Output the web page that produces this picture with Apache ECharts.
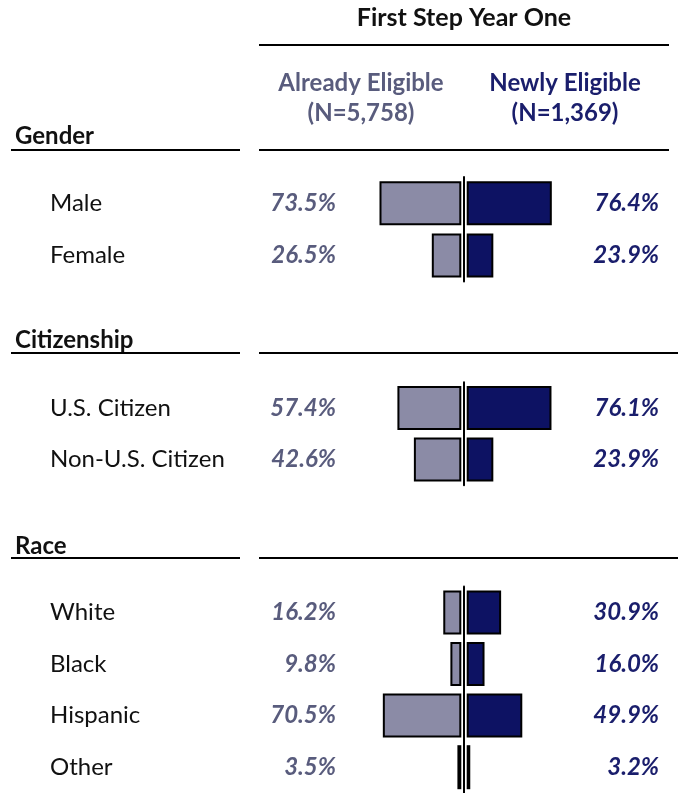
<!DOCTYPE html>
<html>
<head>
<meta charset="UTF-8">
<title>First Step Year One</title>
<script src="https://cdn.jsdelivr.net/npm/echarts@6/dist/echarts.min.js"></script>
<style>
  html, body { margin:0; padding:0; background:#fff; }
  #main { width:678px; height:793px; }
</style>
</head>
<body>
<div id="main"></div>
<script type="text/javascript">
// data
var genderCats = ['Male', 'Female'];
var genderAlready = [73.5, 26.5];
var genderNewly = [76.4, 23.9];

var citizenCats = ['U.S. Citizen', 'Non-U.S. Citizen'];
var citizenAlready = [57.4, 42.6];
var citizenNewly = [76.1, 23.9];

var raceCats = ['White', 'Black', 'Hispanic', 'Other'];
var raceAlready = [16.2, 9.8, 70.5, 3.5];
var raceNewly = [30.9, 16.0, 49.9, 3.2];

var grayFill = '#8b8ba6';
var navyFill = '#0d1263';
var grayText = '#595c7d';
var navyText = '#1a1e6c';
var fontName = 'Lato, "Open Sans", sans-serif';

var sections = [
  { cats: genderCats, already: genderAlready, newly: genderNewly, top: 177, height: 104.6 },
  { cats: citizenCats, already: citizenAlready, newly: citizenNewly, top: 382.3, height: 103 },
  { cats: raceCats, already: raceAlready, newly: raceNewly, top: 586.6, height: 207.2 }
];

function pct(v) { return v.toFixed(1) + '%'; }

var grids = [], xAxes = [], yAxes = [], series = [];

sections.forEach(function (s, i) {
  var gl = i * 2, gr = i * 2 + 1;
  grids.push({ left: 350, width: 111.3, top: s.top, height: s.height });
  grids.push({ left: 466.7, width: 111.4, top: s.top, height: s.height });

  xAxes.push({ gridIndex: gl, type: 'value', min: 0, max: 100, inverse: true, show: false });
  xAxes.push({ gridIndex: gr, type: 'value', min: 0, max: 100, show: false });

  var base = yAxes.length;
  // category names
  yAxes.push({
    gridIndex: gl, type: 'category', data: s.cats, inverse: true, position: 'left',
    axisLine: { show: false, onZero: false }, axisTick: { show: false }, splitLine: { show: false },
    axisLabel: { align: 'left', margin: 300, color: '#111', fontSize: 24, fontFamily: fontName, padding: [3, 0, 0, 0] }
  });
  // already eligible percentages
  yAxes.push({
    gridIndex: gl, type: 'category', data: s.cats, inverse: true, position: 'left',
    axisLine: { show: false, onZero: false }, axisTick: { show: false }, splitLine: { show: false },
    axisLabel: {
      margin: 14, color: grayText, fontSize: 24, fontWeight: 'bold', fontStyle: 'italic', fontFamily: fontName,
      padding: [3, 0, 0, 0],
      formatter: (function (arr) { return function (v, idx) { return pct(arr[idx]); }; })(s.already)
    }
  });
  // centre line
  yAxes.push({
    gridIndex: gr, type: 'category', data: s.cats, inverse: true, position: 'left', offset: 2.7,
    axisLine: { show: true, onZero: false, lineStyle: { color: '#000', width: 2 } },
    axisTick: { show: false }, axisLabel: { show: false }, splitLine: { show: false }
  });
  // newly eligible percentages
  yAxes.push({
    gridIndex: gr, type: 'category', data: s.cats, inverse: true, position: 'right',
    axisLine: { show: false, onZero: false }, axisTick: { show: false }, splitLine: { show: false },
    axisLabel: {
      align: 'right', margin: 81, color: navyText, fontSize: 24, fontWeight: 'bold', fontStyle: 'italic', fontFamily: fontName,
      padding: [3, 0, 0, 0],
      formatter: (function (arr) { return function (v, idx) { return pct(arr[idx]); }; })(s.newly)
    }
  });

  series.push({
    name: 'Already Eligible', type: 'bar', xAxisIndex: gl, yAxisIndex: base,
    data: s.already, barWidth: 44, silent: true,
    itemStyle: { color: grayFill, borderColor: '#000', borderWidth: 2 }
  });
  series.push({
    name: 'Newly Eligible', type: 'bar', xAxisIndex: gr, yAxisIndex: base + 2,
    data: s.newly, barWidth: 44, silent: true,
    itemStyle: { color: navyFill, borderColor: '#000', borderWidth: 2 }
  });
});

function txt(x, y, t, color, align, size) {
  return {
    type: 'text', x: x, y: y, silent: true,
    style: {
      text: t, fill: color, align: align || 'center', verticalAlign: 'middle',
      font: 'bold ' + (size || 24) + 'px ' + fontName
    }
  };
}
function hline(x1, x2, y) {
  return { type: 'line', silent: true, shape: { x1: x1, y1: y, x2: x2, y2: y }, style: { stroke: '#000', lineWidth: 2 } };
}

var myChart = echarts.init(document.getElementById('main'));

var option = {
  backgroundColor: '#fff',
  animation: false,
  grid: grids,
  xAxis: xAxes,
  yAxis: yAxes,
  series: series,
  graphic: [
    txt(464, 18, 'First Step Year One', '#111', 'center', 25),
    hline(259, 669, 45),
    txt(361, 83, 'Already Eligible', grayText),
    txt(361, 113, '(N=5,758)', grayText),
    txt(565, 83, 'Newly Eligible', navyText),
    txt(565, 113, '(N=1,369)', navyText),
    txt(15, 136, 'Gender', '#111', 'left'),
    hline(11, 240, 150),
    hline(259, 669, 150),
    txt(15, 340, 'Citizenship', '#111', 'left'),
    hline(11, 240, 353),
    hline(259, 678, 353),
    txt(15, 546, 'Race', '#111', 'left'),
    hline(11, 240, 558),
    hline(259, 678, 558)
  ]
};

myChart.setOption(option);
</script>
</body>
</html>
